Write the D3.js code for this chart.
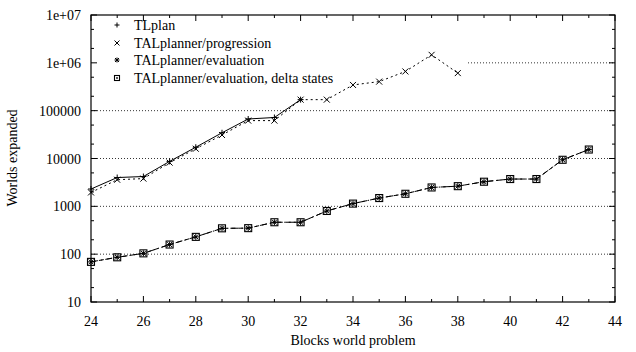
<!DOCTYPE html>
<html><head><meta charset="utf-8">
<script src="https://cdn.jsdelivr.net/npm/d3@7"></script>
<style>
body{margin:0;background:#fff;}
svg text{font-family:"Liberation Serif","Times New Roman",serif;font-size:14px;fill:#000;}
</style></head><body>
<svg id="c" width="636" height="352"></svg>
<script>
const problems = [24,25,26,27,28,29,30,31,32,33,34,35,36,37,38,39,40,41,42,43];
const tlplan = [2300,4000,4200,8700,17200,34500,67000,72000,170000];
const progression = [1950,3600,3800,8200,16000,31000,62000,62000,170000,170000,345000,405000,660000,1470000,610000];
const evaluation = [69,86,104,159,230,347,350,465,465,800,1140,1490,1830,2480,2640,3270,3720,3720,9400,15400];
const deltaStates = [69,86,104,159,230,347,350,465,465,800,1140,1490,1830,2480,2640,3270,3720,3720,9400,15400];
const seriesNames = ["TLplan","TALplanner/progression","TALplanner/evaluation","TALplanner/evaluation, delta states"];
const yTickValues = [10,100,1000,10000,100000,1000000,10000000];
const yTickLabels = ["10","100","1000","10000","100000","1e+06","1e+07"];
const xTickValues = [24,26,28,30,32,34,36,38,40,42,44];

const svg = d3.select("#c");
const L=91,R=615,T=15,B=302;
const x = d3.scaleLinear().domain([24,44]).range([L,R]);
const y = d3.scaleLog().domain([10,1e7]).range([B,T]);

// grid
const g = svg.append("g");
yTickValues.slice(1,-1).forEach(v=>{
  const x0 = v===1000000 ? 468 : L;
  g.append("line").attr("x1",x0).attr("x2",R).attr("y1",y(v)).attr("y2",y(v))
   .attr("stroke","#000").attr("stroke-width",0.8).attr("stroke-dasharray","1,2");
});

// axes with inward ticks
const minorY=[];
[10,100,1000,10000,100000,1000000].forEach(d=>{minorY.push(2*d,5*d);});
const minorX=d3.range(25,44,2);
const ax = svg.append("g").attr("stroke","#000").attr("stroke-width",1);
yTickValues.forEach(v=>{
  ax.append("line").attr("x1",L).attr("x2",L+6).attr("y1",y(v)).attr("y2",y(v));
  ax.append("line").attr("x1",R).attr("x2",R-6).attr("y1",y(v)).attr("y2",y(v));
});
minorY.forEach(v=>{
  ax.append("line").attr("x1",L).attr("x2",L+3).attr("y1",y(v)).attr("y2",y(v));
  ax.append("line").attr("x1",R).attr("x2",R-3).attr("y1",y(v)).attr("y2",y(v));
});
xTickValues.forEach(v=>{
  ax.append("line").attr("x1",x(v)).attr("x2",x(v)).attr("y1",B).attr("y2",B-6);
  ax.append("line").attr("x1",x(v)).attr("x2",x(v)).attr("y1",T).attr("y2",T+6);
});
minorX.forEach(v=>{
  ax.append("line").attr("x1",x(v)).attr("x2",x(v)).attr("y1",B).attr("y2",B-3);
  ax.append("line").attr("x1",x(v)).attr("x2",x(v)).attr("y1",T).attr("y2",T+3);
});
svg.append("rect").attr("x",L).attr("y",T).attr("width",R-L).attr("height",B-T)
  .attr("fill","none").attr("stroke","#000").attr("stroke-width",1.2);

// tick labels
yTickValues.forEach((v,i)=>{
  svg.append("text").attr("x",81).attr("y",y(v)+5).attr("text-anchor","end").text(yTickLabels[i]);
});
xTickValues.forEach(v=>{
  svg.append("text").attr("x",x(v)).attr("y",326).attr("text-anchor","middle").text(v);
});
svg.append("text").attr("x",353).attr("y",345).attr("text-anchor","middle").text("Blocks world problem");
svg.append("text").attr("transform","translate(17,158) rotate(-90)").attr("text-anchor","middle").text("Worlds expanded");

// markers
function plus(sel,cx,cy,s){sel.append("path").attr("d",`M${cx-s},${cy}H${cx+s}M${cx},${cy-s}V${cy+s}`).attr("stroke","#000").attr("stroke-width",1).attr("fill","none");}
function cross(sel,cx,cy,s){sel.append("path").attr("d",`M${cx-s},${cy-s}L${cx+s},${cy+s}M${cx-s},${cy+s}L${cx+s},${cy-s}`).attr("stroke","#000").attr("stroke-width",1).attr("fill","none");}
function star(sel,cx,cy,s){plus(sel,cx,cy,s);cross(sel,cx,cy,s*0.8);}
function box(sel,cx,cy,s){sel.append("rect").attr("x",cx-s).attr("y",cy-s).attr("width",2*s).attr("height",2*s).attr("fill","none").attr("stroke","#000").attr("stroke-width",1.1);
  sel.append("rect").attr("x",cx-0.8).attr("y",cy-0.8).attr("width",1.6).attr("height",1.6).attr("fill","#000");}

const series = [
  {vals:tlplan, dash:null, mark:plus},
  {vals:progression, dash:"2,3", mark:cross},
  {vals:evaluation, dash:"5,3", mark:star},
  {vals:deltaStates, dash:"7,3,1.5,3", mark:box}
];
const line = d3.line().x((d,i)=>x(problems[i])).y(d=>y(d));
const pg = svg.append("g");
series.forEach(s=>{
  pg.append("path").datum(s.vals).attr("d",line).attr("fill","none").attr("stroke","#000")
    .attr("stroke-width",1).attr("stroke-dasharray",s.dash);
});
series.forEach((s,k)=>{
  s.vals.forEach((v,i)=>s.mark(pg,x(problems[i]),y(v),k===3?3.5:3));
});

// legend
const legY=[25,43,60,78];
series.forEach((s,i)=>{
  s.mark(svg,117,legY[i],2.5);
  svg.append("text").attr("x",134).attr("y",legY[i]+5).text(seriesNames[i]);
});
</script></body></html>
